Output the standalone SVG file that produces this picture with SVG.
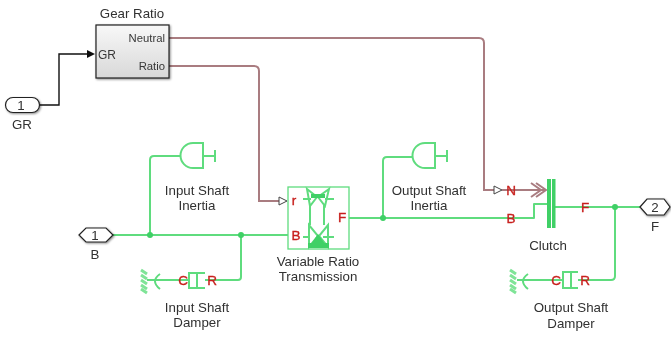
<svg xmlns="http://www.w3.org/2000/svg" width="671" height="337" viewBox="0 0 671 337">
<defs>
<linearGradient id="g" x1="0" y1="0" x2="0" y2="1"><stop offset="0" stop-color="#f8f8f8"/><stop offset="1" stop-color="#d8d8d8"/></linearGradient>
<filter id="s" x="-20%" y="-20%" width="150%" height="150%"><feDropShadow dx="1" dy="1" stdDeviation="1" flood-color="#000" flood-opacity="0.45"/></filter>
<filter id="b" x="0" y="0" width="100%" height="100%" filterUnits="userSpaceOnUse"><feGaussianBlur stdDeviation="0.35"/></filter>
</defs>
<style>
text{font-family:"Liberation Sans",Arial,sans-serif;font-size:13.3px;fill:#303030;text-anchor:middle}
.p{font-size:13.5px;fill:#c8201e;stroke:#c8201e;stroke-width:.35}
.i{font-size:11.3px;fill:#383838;text-anchor:end}
.g{fill:none;stroke:#5fdc7e;stroke-width:2;stroke-linejoin:round}
.t{fill:none;stroke:#5fdc7e;stroke-width:2}
.w{fill:none;stroke:#7fe497;stroke-width:3}
.h{fill:none;stroke:#a97c80;stroke-width:2}
.d{fill:#3fd066}
</style>
<g filter="url(#b)">
<rect width="671" height="337" fill="#fff"/>
<g id="connectors">
<path d="M39 105H59V54H87" fill="none" stroke="#111" stroke-width="1.4"/>
<path d="M87 50L95 54L87 58Z" fill="#111"/>
<path class="h" d="M169 38H479Q484 38 484 43V190H494"/>
<path class="h" d="M169 66H254Q259 66 259 71V201H279"/>
<path class="g" d="M113 235H288"/>
<path class="g" d="M150 235V160Q150 156 154 156H180"/>
<path class="g" d="M241 235V277Q241 280 238 280H205"/>
<path class="g" d="M349 218H534V204H547"/>
<path class="g" d="M383 218V161Q383 157 387 157H412"/>
<path class="g" d="M555 207H640"/>
<path class="g" d="M615 207V276Q615 280 611 280H578"/>
<path class="g" d="M147 280H188"/>
<path class="g" d="M517 280H563"/>
<circle class="d" cx="150" cy="235" r="3"/><circle class="d" cx="241" cy="235" r="3"/>
<circle class="d" cx="383" cy="218" r="3"/><circle class="d" cx="615" cy="207" r="3"/>
</g>
<g id="gr-in"><rect x="5.500" y="97.500" width="34" height="15" rx="7.500" fill="#fff" stroke="#222" stroke-width="1.2" filter="url(#s)"/><text x="21" y="110">1</text><text x="22" y="129">GR</text></g>
<g id="gear-ratio"><rect x="96" y="25" width="73" height="53" fill="url(#g)" stroke="#222" stroke-width="1.2" filter="url(#s)"/>
<text x="132" y="18">Gear Ratio</text><text class="i" x="165" y="42">Neutral</text><text class="i" x="116" y="59" style="font-size:12px">GR</text><text class="i" x="165" y="70">Ratio</text></g>
<g id="b-in"><path d="M79 235L86 228H106L113 235L106 242H86Z" fill="#fff" stroke="#222" stroke-width="1.2" filter="url(#s)"/><text x="95" y="240">1</text><text x="95" y="259">B</text></g>
<g id="input-inertia"><path class="t" d="M203 143H193A12.500 12.500 0 0 0 193 168H203ZM203 156H215M215 150V162"/><text x="197" y="195">Input Shaft</text><text x="197" y="210">Inertia</text></g>
<g id="input-damper"><path class="w" d="M141 270L147 274M141 275L147 279M141 280L147 284M141 285L147 289M141 289L147 293"/><path class="t" d="M160 274Q150 281 160 289M205 273H189V288H205M197 273V288"/><text class="p" x="183" y="285">C</text><text class="p" x="212" y="285">R</text><text x="197" y="312">Input Shaft</text><text x="197" y="327">Damper</text></g>
<g id="vrt"><rect x="288" y="187" width="61" height="62" fill="#fff" stroke="#5fdc7e" stroke-width="1.3"/>
<path class="t" stroke-width="1.6" d="M307 189L317 197L310 206ZM329 189L318 197L325 206ZM310 205V225M324 205V225M303 199H311M325 199H334M303 237H309M323 237H334M309 225V247L318 236ZM328 225V247L319 236Z"/>
<path class="d" d="M311 194H325V198H311ZM308 243H329V248H308ZM318 234L325 244H311Z"/>
<path d="M279 197L287 201L279 205Z" fill="#fff" stroke="#444"/><text class="p" x="294" y="205">r</text><text class="p" x="296" y="240">B</text><text class="p" x="342" y="222">F</text>
<text x="318" y="266">Variable Ratio</text><text x="318" y="281">Transmission</text></g>
<g id="output-inertia"><path class="t" d="M435 143H425A12.500 12.500 0 0 0 425 168H435ZM435 156H447M447 150V162"/><text x="429" y="195">Output Shaft</text><text x="429" y="210">Inertia</text></g>
<g id="clutch"><path d="M494 186L502 190L494 194Z" fill="#fff" stroke="#444"/><path class="h" d="M502 190H546M536 183L546 190L536 197M531 183L541 190L531 197"/>
<rect x="547" y="179" width="4" height="49" fill="#3fd066"/><rect x="552" y="179" width="3.500" height="49" fill="#3fd066"/>
<text class="p" x="511" y="195">N</text><text class="p" x="511" y="223">B</text><text class="p" x="585" y="212">F</text><text x="548" y="250">Clutch</text></g>
<g id="f-out"><path d="M640 207L647 199H664L670 207L664 215H647Z" fill="#fff" stroke="#222" stroke-width="1.2" filter="url(#s)"/><text x="655" y="212">2</text><text x="655" y="231">F</text></g>
<g id="output-damper"><path class="w" d="M510 270L516 274M510 275L516 279M510 280L516 284M510 285L516 289M510 289L516 293"/><path class="t" d="M528 274Q518 281 528 289M578 272H563V288H578M571 272V288"/><text class="p" x="556" y="285">C</text><text class="p" x="585" y="285">R</text><text x="571" y="312">Output Shaft</text><text x="571" y="328">Damper</text></g>
</g>
</svg>
